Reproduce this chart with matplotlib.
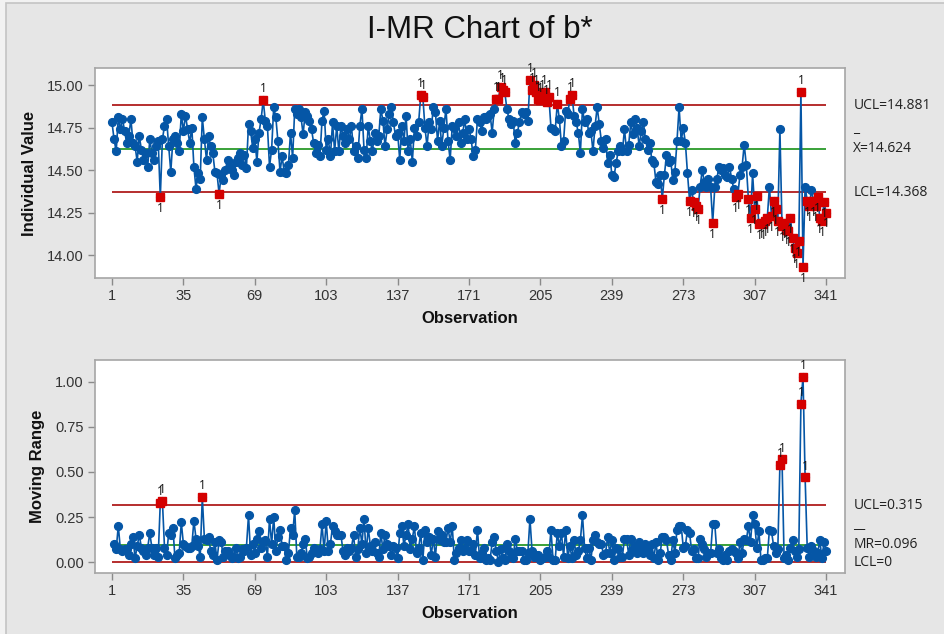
import numpy as np
import matplotlib
matplotlib.use("Agg")
import matplotlib.pyplot as plt
from matplotlib.patches import Rectangle
from matplotlib import transforms

b_001_057 = [14.78, 14.68, 14.61, 14.81, 14.74, 14.80, 14.73, 14.66, 14.70, 14.80,
             14.66, 14.64, 14.55, 14.70, 14.62, 14.56, 14.60, 14.52, 14.68, 14.60,
             14.56, 14.64, 14.67, 14.34, 14.68, 14.76, 14.80, 14.64, 14.49, 14.68,
             14.70, 14.66, 14.61, 14.83, 14.73, 14.82, 14.74, 14.66, 14.75, 14.52,
             14.39, 14.48, 14.45, 14.81, 14.68, 14.56, 14.70, 14.64, 14.60, 14.49,
             14.48, 14.36, 14.47, 14.44, 14.50, 14.56, 14.52]
b_058_114 = [14.50, 14.47, 14.55, 14.57, 14.60, 14.53, 14.59, 14.51, 14.77, 14.73,
             14.63, 14.68, 14.55, 14.72, 14.80, 14.91, 14.79, 14.76, 14.52, 14.62,
             14.87, 14.81, 14.67, 14.49, 14.58, 14.49, 14.48, 14.53, 14.72, 14.57,
             14.86, 14.83, 14.86, 14.81, 14.71, 14.84, 14.82, 14.79, 14.74, 14.66,
             14.60, 14.65, 14.58, 14.79, 14.85, 14.62, 14.68, 14.58, 14.78, 14.61,
             14.76, 14.61, 14.76, 14.70, 14.66, 14.74, 14.68]
b_115_171 = [14.76, 14.61, 14.64, 14.57, 14.76, 14.86, 14.62, 14.57, 14.76, 14.67,
             14.61, 14.72, 14.67, 14.70, 14.86, 14.79, 14.64, 14.74, 14.83, 14.87,
             14.78, 14.70, 14.72, 14.56, 14.76, 14.67, 14.82, 14.61, 14.68, 14.55,
             14.75, 14.70, 14.78, 14.94, 14.93, 14.75, 14.64, 14.78, 14.74, 14.87,
             14.84, 14.67, 14.79, 14.64, 14.75, 14.86, 14.67, 14.56, 14.76, 14.75,
             14.70, 14.78, 14.66, 14.72, 14.80, 14.68, 14.74]
b_172_228 = [14.68, 14.58, 14.62, 14.80, 14.78, 14.73, 14.81, 14.80, 14.82, 14.83,
             14.72, 14.86, 14.92, 14.92, 14.99, 14.97, 14.96, 14.86, 14.80, 14.77,
             14.79, 14.66, 14.72, 14.78, 14.84, 14.83, 14.84, 14.79, 15.03, 14.97,
             15.00, 14.96, 14.92, 14.91, 14.93, 14.96, 14.90, 14.93, 14.75, 14.74,
             14.73, 14.89, 14.80, 14.64, 14.67, 14.85, 14.83, 14.92, 14.94, 14.82,
             14.78, 14.72, 14.60, 14.86, 14.78, 14.80, 14.72]
b_229_275 = [14.73, 14.61, 14.76, 14.87, 14.77, 14.67, 14.63, 14.68, 14.54, 14.59,
             14.47, 14.46, 14.54, 14.61, 14.64, 14.61, 14.74, 14.61, 14.65, 14.78,
             14.71, 14.80, 14.75, 14.64, 14.73, 14.78, 14.68, 14.62, 14.66, 14.56,
             14.54, 14.43, 14.42, 14.47, 14.33, 14.47, 14.59, 14.55, 14.56, 14.44,
             14.49, 14.67, 14.87, 14.67, 14.75, 14.66, 14.48]
b_276_341 = [14.32, 14.38, 14.31, 14.29, 14.27, 14.40, 14.50, 14.43, 14.40, 14.45,
             14.40, 14.19, 14.40, 14.45, 14.52, 14.50, 14.51, 14.47, 14.46, 14.52,
             14.45, 14.39, 14.34, 14.36, 14.47, 14.52, 14.65, 14.53, 14.33, 14.22,
             14.48, 14.27, 14.35, 14.18, 14.19, 14.18, 14.20, 14.22, 14.40, 14.23,
             14.32, 14.27, 14.20, 14.74, 14.17, 14.19, 14.15, 14.14, 14.22, 14.10,
             14.04, 14.01, 14.08, 14.96, 13.93, 14.40, 14.32, 14.29, 14.38, 14.32,
             14.29, 14.34, 14.22, 14.20, 14.31, 14.25]

# control limits as printed on the chart
i_ucl, i_center, i_lcl = 14.881, 14.624, 14.368
mr_ucl, mr_center, mr_lcl = 0.315, 0.096, 0.0

x_ticks = [1, 35, 69, 103, 137, 171, 205, 239, 273, 307, 341]

values = np.array(b_001_057 + b_058_114 + b_115_171 + b_172_228 + b_229_275 + b_276_341)
assert len(values) == 341
obs = np.arange(1, len(values) + 1)
# moving range of two consecutive observations
mr = np.abs(np.diff(values))
mr_obs = obs[1:]

BLUE = "#0556a6"
RED = "#d40000"
LIMIT = "#b01c1c"
GREEN = "#2a9a2a"
TICK_FONT = "Liberation Sans"
NOTE_FONT = "Open Sans"

fig = plt.figure(figsize=(9.45, 6.34), dpi=100, facecolor="#f2f2f2")
fig.patches.append(Rectangle((6 / 945, -0.01), 1.0, 1.005, transform=fig.transFigure,
                             facecolor="#e6e6e6", edgecolor="#c4c4c4", lw=1.2, zorder=-10))
fig.text(0.508, 0.953, "I-MR Chart of b*", ha="center", va="center",
         fontsize=22.5, family=TICK_FONT, color="#111111")


def draw_panel(ax, x, y, ucl, center, lcl, ylim, yticks, ylabel, notes):
    ax.set_facecolor("white")
    ax.plot(x, y, color=BLUE, lw=1.2, marker="o", ms=5.6, mfc=BLUE, mec=BLUE, zorder=3)
    out = (y > ucl) | (y < lcl)
    ax.plot(x[out], y[out], ls="none", marker="s", ms=6, mfc=RED, mec=RED, zorder=4)
    for xi, yi in zip(x[out], y[out]):
        up = yi > ucl
        ax.annotate("1", (xi, yi), xytext=(0, 3.5 if up else -3.5), textcoords="offset points",
                    ha="center", va="bottom" if up else "top", fontsize=8.5,
                    family=NOTE_FONT, color="#111111", zorder=5)
    ax.hlines([ucl, lcl], 1, 341, colors=LIMIT, lw=1.3, zorder=2)
    ax.hlines(center, 1, 341, colors=GREEN, lw=1.3, zorder=2)

    ax.set_xlim(-7.1, 350)
    ax.set_ylim(*ylim)
    ax.set_xticks(x_ticks)
    ax.set_yticks(yticks)
    ax.set_yticklabels([f"{t:.2f}" for t in yticks])
    ax.tick_params(length=5, width=1, color="#8a8a8a", labelsize=10.5,
                   labelcolor="#333333", pad=3)
    for lab in ax.get_xticklabels() + ax.get_yticklabels():
        lab.set_family(TICK_FONT)
    for sp in ax.spines.values():
        sp.set_color("#a6a6a6")
        sp.set_linewidth(1.2)
    ax.set_xlabel("Observation", fontsize=12, fontweight="bold", family=TICK_FONT,
                  labelpad=6, color="#111111")
    ax.set_ylabel(ylabel, fontsize=12, fontweight="bold", family=TICK_FONT,
                  labelpad=7, color="#111111")

    trans = transforms.blended_transform_factory(ax.transAxes, ax.transData)
    for text, yv, bar in notes:
        ax.text(1.011, yv, text, transform=trans, ha="left", va="center",
                fontsize=10, family=NOTE_FONT, color="#222222")
        if bar:
            ax.annotate(bar, (1.011, yv), xycoords=trans, xytext=(0, 9),
                        textcoords="offset points", ha="left", va="bottom",
                        fontsize=10, family=NOTE_FONT, color="#222222")


ax1 = fig.add_axes([0.1005, 0.5615, 0.7937, 0.3312])
draw_panel(ax1, obs, values, i_ucl, i_center, i_lcl, (13.865, 15.10),
           [14.00, 14.25, 14.50, 14.75, 15.00], "Individual Value",
           [(f"UCL={i_ucl:.3f}", i_ucl, None),
            (f"X={i_center:.3f}", i_center, "_"),
            (f"LCL={i_lcl:.3f}", i_lcl, None)])

ax2 = fig.add_axes([0.1005, 0.0962, 0.7937, 0.336])
draw_panel(ax2, mr_obs, mr, mr_ucl, mr_center, mr_lcl, (-0.061, 1.122),
           [0.00, 0.25, 0.50, 0.75, 1.00], "Moving Range",
           [(f"UCL={mr_ucl:.3f}", mr_ucl, None),
            (f"MR={mr_center:.3f}", mr_center, "__"),
            ("LCL=0", mr_lcl, None)])

fig.savefig("out.png", dpi=100, facecolor=fig.get_facecolor())
